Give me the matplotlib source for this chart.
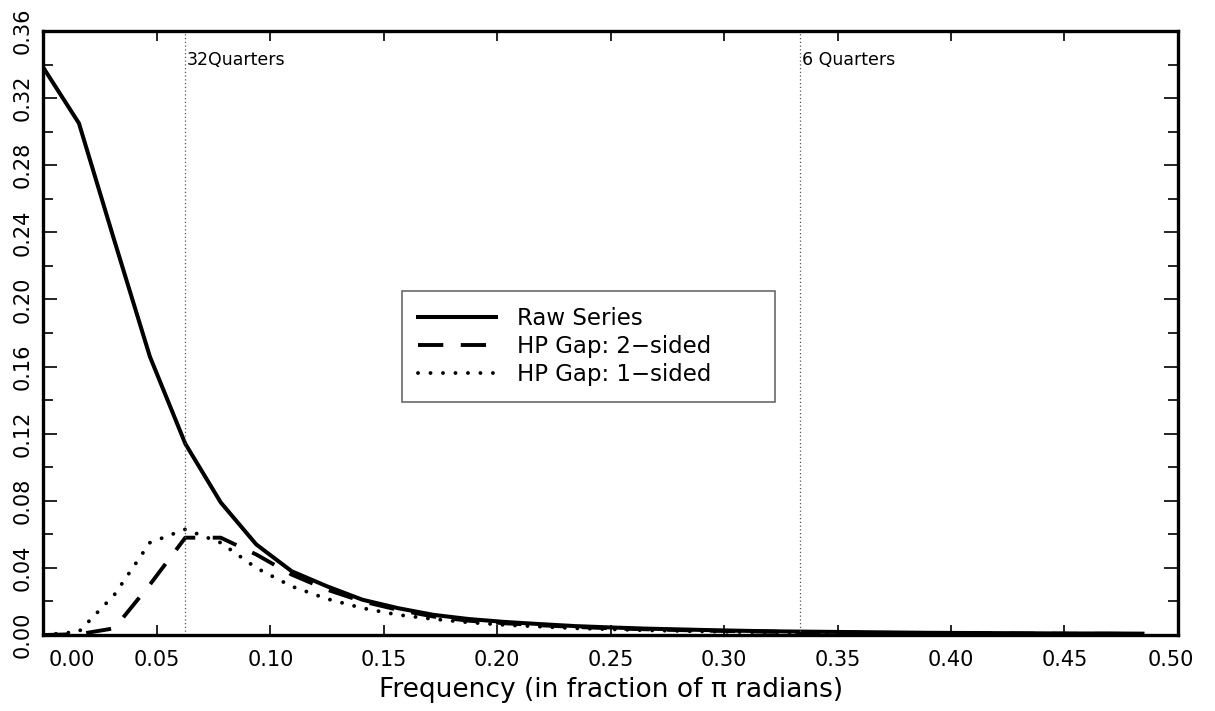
import matplotlib
matplotlib.use("Agg")
import matplotlib.pyplot as plt
import matplotlib.transforms as mtransforms
import numpy as np

# frequencies k/64, k = 0..31 (fraction of pi radians)
freq = np.arange(32) / 64.0

raw_series = [0.338, 0.305, 0.235, 0.166, 0.114, 0.079, 0.054, 0.038,
              0.029, 0.021, 0.016, 0.012, 0.0095, 0.0078, 0.0065, 0.0053,
              0.0045, 0.0038, 0.0033, 0.0028, 0.0024, 0.0021, 0.0019, 0.0017,
              0.0015, 0.0013, 0.0012, 0.0011, 0.0010, 0.0009, 0.0009, 0.0008]
hp_two_sided = [0.0, 0.0005, 0.004, 0.030, 0.058, 0.058, 0.048, 0.036,
                0.027, 0.020, 0.015, 0.011, 0.0085, 0.007, 0.0058, 0.0048,
                0.004, 0.0034, 0.0029, 0.0025, 0.0021, 0.0018, 0.0016, 0.0014,
                0.0012, 0.0011, 0.001, 0.0009, 0.0008, 0.0007, 0.0007, 0.0006]
hp_one_sided = [0.0, 0.002, 0.024, 0.055, 0.063, 0.055, 0.040, 0.029,
                0.0215, 0.016, 0.012, 0.0095, 0.0075, 0.006, 0.005, 0.004,
                0.0034, 0.0028, 0.0024, 0.002, 0.0017, 0.0015, 0.0013, 0.0011,
                0.001, 0.0009, 0.0008, 0.0007, 0.0006, 0.0006, 0.0005, 0.0005]

marker_freqs = [2 / 32, 2 / 6]
marker_labels = ["32Quarters", "6 Quarters"]

x_ticks = np.arange(0, 0.501, 0.05)
y_ticks = np.arange(0, 0.361, 0.04)

plt.rcParams["font.family"] = ["DejaVu Sans"]

fig = plt.figure(figsize=(12.15, 7.11), dpi=100)
ax = fig.add_axes([0.0358, 0.1069, 0.9337, 0.8495])

ax.plot(freq, raw_series, color="black", lw=2.9, label="Raw Series")
ax.plot(freq, hp_two_sided, color="black", lw=2.8, dashes=(6.5, 4.5),
        label="HP Gap: 2\u2212sided")
ax.plot(freq, hp_one_sided, color="black", lw=2.8, dashes=(0.01, 3.2),
        dash_capstyle="round", label="HP Gap: 1\u2212sided")

for xf, lab in zip(marker_freqs, marker_labels):
    ax.axvline(xf, color="#555555", lw=0.9, ls=(0, (1, 2)))
    ax.text(xf + 0.0008, 0.3425, lab, fontsize=12.5, ha="left", va="center")

ax.set_xlim(0, 0.5)
ax.set_ylim(0, 0.36)
ax.set_xticks(x_ticks)
ax.set_xticklabels([f"{v:.2f}" for v in x_ticks], fontsize=15)
ax.set_yticks(y_ticks)
ax.set_yticklabels([f"{v:.2f}" for v in y_ticks], fontsize=15,
                   rotation=90, va="center")
ax.set_yticks(np.arange(0.02, 0.36, 0.04), minor=True)

ax.tick_params(axis="x", which="major", direction="in", length=7, width=1.2,
               top=True, pad=11)
ax.tick_params(axis="y", which="major", direction="in", length=10, width=1.2,
               right=True, pad=8)
ax.tick_params(axis="y", which="minor", direction="in", length=7, width=1.2,
               right=True)

# shift the end labels inward like the original
labels = ax.get_xticklabels()
labels[0].set_transform(labels[0].get_transform() +
                        mtransforms.ScaledTranslation(0.28, 0, fig.dpi_scale_trans))
labels[-1].set_transform(labels[-1].get_transform() +
                         mtransforms.ScaledTranslation(-0.07, 0, fig.dpi_scale_trans))

for sp in ax.spines.values():
    sp.set_linewidth(2.4)

ax.set_xlabel("Frequency (in fraction of \u03c0 radians)", fontsize=19, labelpad=5)

leg = ax.legend(loc="upper left", bbox_to_anchor=(0.316, 0.569, 0.329, 0.0),
                mode="expand", fontsize=16.5,
                frameon=True, fancybox=False, handlelength=3.4,
                borderpad=0.7, labelspacing=0.22, handletextpad=0.9,
                borderaxespad=0)
leg.get_frame().set_edgecolor("#444444")
leg.get_frame().set_linewidth(1.2)

fig.savefig("out.png", dpi=100)
